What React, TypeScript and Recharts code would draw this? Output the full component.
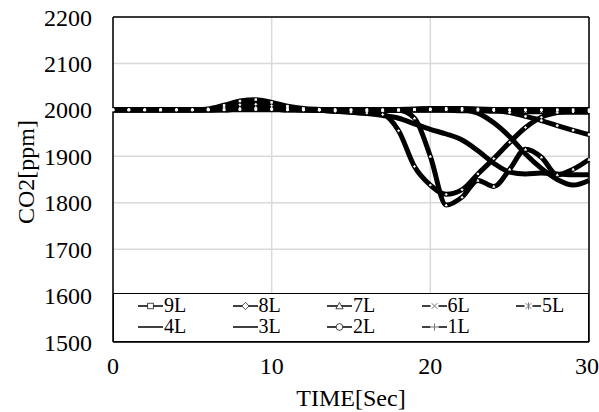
import { LineChart, Line, XAxis, YAxis, CartesianGrid, ReferenceLine, Legend } from 'recharts';

const time = [0, 1, 2, 3, 4, 5, 6, 7, 8, 9, 10, 11, 12, 13, 14, 15, 16, 17, 18, 19, 20, 21, 22, 23, 24, 25, 26, 27, 28, 29, 30];

const co2_9L = [2000, 2000, 2000, 2000, 2000, 2000, 2002, 2010, 2019, 2022, 2016, 2008, 2003, 2001, 2000, 2000, 2000, 2000, 2000, 2001, 2002, 2003, 2003, 2002, 2001, 2000, 2000, 2000, 2000, 2000, 2000];
const co2_8L = [2000, 2000, 2000, 2000, 2000, 2000, 2001, 2006, 2011, 2012, 2009, 2004, 2001, 1999, 1997, 1995, 1993, 1990, 1955, 1878, 1838, 1818, 1828, 1862, 1895, 1930, 1962, 1984, 1994, 1997, 1997];
const co2_7L = [2000, 2000, 2000, 2000, 2000, 2000, 2000, 2002, 2004, 2005, 2004, 2002, 2000, 2000, 1999, 1999, 1998, 1998, 1999, 1982, 1900, 1795, 1812, 1848, 1835, 1872, 1915, 1898, 1860, 1872, 1893];
const co2_6L = [2000, 2000, 2000, 2000, 2000, 2000, 2000, 2001, 2002, 2003, 2002, 2001, 2000, 2000, 2000, 2000, 1999, 1999, 1999, 1999, 1999, 1999, 1998, 1998, 1997, 1997, 1996, 1996, 1995, 1995, 1995];
const co2_5L = [2000, 2000, 2000, 2000, 2000, 2000, 2000, 2000, 2001, 2001, 2001, 2000, 2000, 2000, 2000, 2000, 2000, 2000, 2000, 2000, 2000, 2000, 2000, 2000, 2000, 2000, 2000, 2000, 2000, 2000, 2000];
const co2_4L = [2000, 2000, 2000, 2000, 2000, 2000, 2000, 2001, 2002, 2002, 2002, 2001, 2000, 1999, 1997, 1995, 1992, 1988, 1982, 1970, 1958, 1948, 1935, 1912, 1885, 1866, 1862, 1864, 1862, 1860, 1860];
const co2_3L = [2000, 2000, 2000, 2000, 2000, 2000, 2000, 2000, 2001, 2001, 2001, 2000, 2000, 2000, 2000, 2000, 2000, 2000, 2001, 2002, 2003, 2003, 2000, 1993, 1972, 1942, 1905, 1874, 1850, 1838, 1848];
const co2_2L = [2000, 2000, 2000, 2000, 2000, 2000, 2000, 2000, 2001, 2001, 2001, 2000, 2000, 2000, 2000, 2000, 2000, 2000, 2000, 2001, 2001, 2001, 2001, 2000, 1999, 1994, 1986, 1977, 1966, 1956, 1947];
const co2_1L = [2000, 2000, 2000, 2000, 2000, 2000, 2000, 2000, 2000, 2000, 2000, 2000, 2000, 2000, 2000, 2000, 2000, 2000, 2000, 2000, 2000, 2000, 2000, 2000, 2000, 2000, 2000, 2000, 2000, 2000, 2000];

const seriesNames = ['9L', '8L', '7L', '6L', '5L', '4L', '3L', '2L', '1L'];
const seriesValues = [co2_9L, co2_8L, co2_7L, co2_6L, co2_5L, co2_4L, co2_3L, co2_2L, co2_1L];
const seriesMarkers = ['square', 'diamond', 'triangle', 'cross', 'star', 'none', 'none', 'circle', 'plus'];
// plain lines drawn last so they cover the markers where curves overlap
const drawOrder = [0, 1, 2, 3, 4, 7, 8, 5, 6];

const yTicks = [1500, 1600, 1700, 1800, 1900, 2000, 2100, 2200];
const xTicks = [0, 10, 20, 30];

const data = time.map((t, i) => {
  const row: any = { time: t };
  seriesNames.forEach((name, k) => {
    row[name] = seriesValues[k][i];
  });
  return row;
});

const FONT = '"Liberation Serif", "Times New Roman", serif';

const Marker = ({ shape, cx, cy, s, fill, stroke }: any) => {
  const lineColor = fill === '#fff' && stroke === '#fff' ? '#fff' : '#777';
  switch (shape) {
    case 'square':
      return <rect x={cx - s} y={cy - s} width={2 * s} height={2 * s} fill={fill} stroke={stroke} strokeWidth={0.7} />;
    case 'diamond':
      return <polygon points={`${cx},${cy - s * 1.3} ${cx + s * 1.3},${cy} ${cx},${cy + s * 1.3} ${cx - s * 1.3},${cy}`} fill={fill} stroke={stroke} strokeWidth={0.7} />;
    case 'triangle':
      return <polygon points={`${cx},${cy - s * 1.3} ${cx + s * 1.3},${cy + s} ${cx - s * 1.3},${cy + s}`} fill={fill} stroke={stroke} strokeWidth={0.7} />;
    case 'circle':
      return <circle cx={cx} cy={cy} r={s * 1.2} fill={fill} stroke={stroke} strokeWidth={0.7} />;
    case 'cross':
      return <path d={`M${cx - s},${cy - s}L${cx + s},${cy + s}M${cx - s},${cy + s}L${cx + s},${cy - s}`} stroke={lineColor} strokeWidth={1} />;
    case 'star':
      return <path d={`M${cx - s},${cy - s}L${cx + s},${cy + s}M${cx - s},${cy + s}L${cx + s},${cy - s}M${cx},${cy - s * 1.3}L${cx},${cy + s * 1.3}`} stroke={lineColor} strokeWidth={1} />;
    case 'plus':
      return <path d={`M${cx - s * 1.3},${cy}L${cx + s * 1.3},${cy}M${cx},${cy - s * 1.3}L${cx},${cy + s * 1.3}`} stroke={lineColor} strokeWidth={1} />;
    default:
      return null;
  }
};

// open markers (x, *, +) need a gap in the legend line
const openMarkers = ['cross', 'star', 'plus'];

const LegendBox = () => (
  <div
    style={{
      boxSizing: 'border-box',
      width: 476,
      height: 49,
      background: '#fff',
      border: '1.5px solid #000',
      padding: '1px 0 0 24px',
      display: 'grid',
      gridTemplateColumns: 'repeat(5, 94.5px)',
      gridAutoRows: 21,
      fontFamily: FONT,
      fontSize: 20,
      color: '#000',
    }}
  >
    {seriesNames.map((name, k) => (
      <div key={name} style={{ display: 'flex', alignItems: 'center', lineHeight: '21px' }}>
        <svg width={25} height={10} style={{ marginRight: 1 }}>
          <line x1={0} x2={25} y1={5} y2={5} stroke="#000" strokeWidth={1.5} />
          {openMarkers.includes(seriesMarkers[k]) && <rect x={8.5} y={0} width={8} height={10} fill="#fff" />}
          <Marker shape={seriesMarkers[k]} cx={12.5} cy={5} s={2.8} fill="#fff" stroke="#000" />
        </svg>
        <span>{name}</span>
      </div>
    ))}
  </div>
);

export default function App() {
  return (
    <div style={{ position: 'absolute', left: 0, top: 0, background: '#fff' }}>
      <LineChart width={599} height={412} data={data} margin={{ top: 17, right: 10, left: 0, bottom: 0 }}>
        <CartesianGrid stroke="#d9d9d9" strokeWidth={1.5} vertical horizontal />
        <XAxis
          dataKey="time"
          type="number"
          domain={[0, 30]}
          ticks={xTicks}
          height={70}
          tickLine={false}
          tickMargin={9}
          axisLine={{ stroke: '#000', strokeWidth: 1.5 }}
          tick={{ fill: '#000', fontSize: 24, fontFamily: FONT }}
          label={{ value: 'TIME[Sec]', position: 'insideBottom', offset: 6, fill: '#000', fontSize: 24, fontFamily: FONT }}
        />
        <YAxis
          type="number"
          domain={[1500, 2200]}
          ticks={yTicks}
          width={113}
          tickLine={false}
          tickMargin={15}
          axisLine={{ stroke: '#000', strokeWidth: 1.5 }}
          tick={{ fill: '#000', fontSize: 24, fontFamily: FONT }}
          label={{
            content: () => (
              <text x={26} y={172} transform="rotate(-90 26 172)" textAnchor="middle" dominantBaseline="central" fill="#000" fontSize={24} fontFamily={FONT}>
                CO2[ppm]
              </text>
            ),
          }}
        />
        <ReferenceLine y={2200} stroke="#000" strokeWidth={1.5} />
        <ReferenceLine x={30} stroke="#000" strokeWidth={1.5} />
        {drawOrder.map((k) => {
          const name = seriesNames[k];
          return (
            <Line
              key={name}
              type="monotone"
              dataKey={name}
              stroke="#000"
              strokeWidth={5}
              isAnimationActive={false}
              dot={
                seriesMarkers[k] === 'none'
                  ? false
                  : (p: any) => (
                      <g key={`${name}-${p.index}`}>
                        <Marker shape={seriesMarkers[k]} cx={p.cx} cy={p.cy} s={0.9} fill="#fff" stroke="#fff" />
                      </g>
                    )
              }
            />
          );
        })}
        <Legend
          layout="horizontal"
          verticalAlign="middle"
          align="center"
          content={() => <LegendBox />}
          wrapperStyle={{ position: 'absolute', left: 113, top: 293, width: 476, height: 49 }}
        />
      </LineChart>
    </div>
  );
}
